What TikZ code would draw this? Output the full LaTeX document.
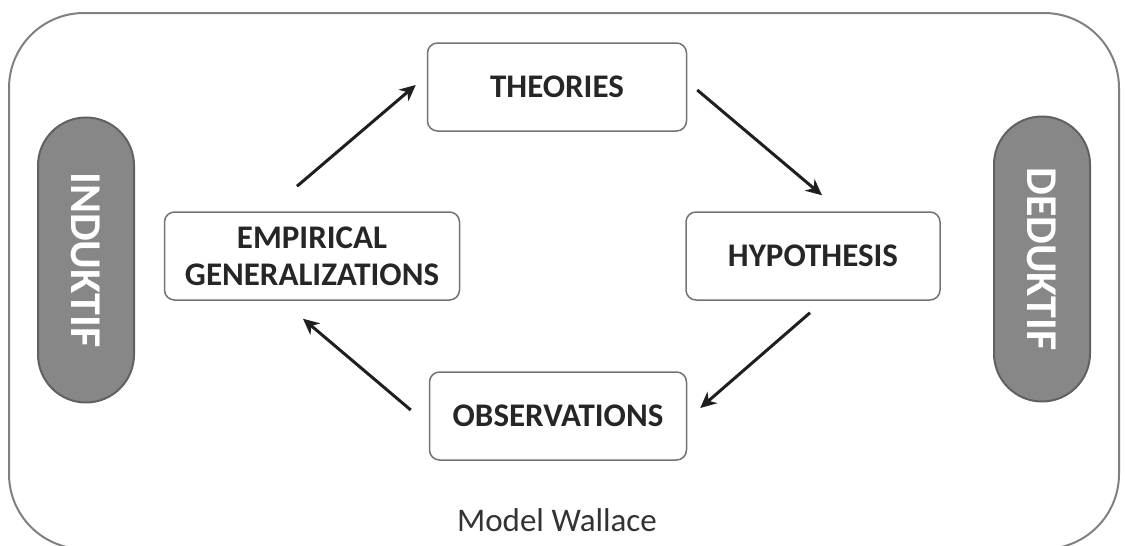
\documentclass[tikz,border=0pt]{standalone}
\usepackage{fontspec}
\setmainfont{Carlito}
\usepackage{tikz}
\usetikzlibrary{calc}
\usetikzlibrary{arrows.meta}

\begin{document}
\begin{tikzpicture}[x=0.5pt,y=-0.5pt,
  stage/.style={draw=black!55, line width=.75pt, rounded corners=5pt,
    minimum width=#1, minimum height=44pt, inner sep=0pt, align=center,
    text=black!85, font=\fontsize{16.5}{18.5}\selectfont\bfseries},
  pill/.style={draw=black!62, fill=black!47, line width=1pt, rotate=-90,
    minimum width=142.5pt, minimum height=48pt, rounded corners=24pt,
    inner sep=0pt, text=white, font=\fontsize{22}{24}\selectfont\bfseries},
  flow/.style={-{Stealth[length=8pt,width=7.5pt,inset=2.5pt]}, line width=1.5pt, black!88},
  frame/.style={draw=black!50, line width=1pt, rounded corners=37.5pt}]

\useasboundingbox (0,0) rectangle (1125,546);
\draw[frame] (9,13) rectangle (1119,549);

\node[stage=129.5pt] (theo) at (557,87) {THEORIES};
\node[stage=147.5pt] (emp) at (312,256) {EMPIRICAL\\GENERALIZATIONS};
\node[stage=127pt] (hyp) at (813,256) {HYPOTHESIS};
\node[stage=128.5pt] (obs) at (558,416) {OBSERVATIONS};

\node[pill] (induk) at (86,260) {INDUKTIF};
\node[pill] (deduk) at (1042,259) {DEDUKTIF};

\node[text=black!80, font=\fontsize{16.5}{18.5}\selectfont] (title) at (557,520) {Model Wallace};

\draw[flow] ($(emp.north)+(-15,-25)$) -- ($(theo.west)+(-11,-2)$);
\draw[flow] ($(theo.east)+(10,3)$) -- ($(hyp.north)+(9,-16)$);
\draw[flow] ($(hyp.south)+(-3,12)$) -- ($(obs.east)+(13,-8)$);
\draw[flow] ($(obs.west)+(-18,-6)$) -- ($(emp.south)+(-9,18)$);
\end{tikzpicture}
\end{document}
